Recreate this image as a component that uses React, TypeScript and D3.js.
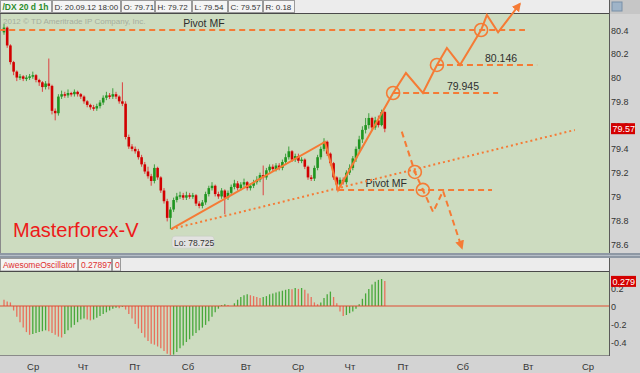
import * as d3 from 'd3'

// 1h bars of /DX, open of each bar = close of the previous one
const firstOpen = 80.38
const closes = [
  80.42, 80.27, 80.13, 80.05, 80.0, 80.01, 79.99, 80.0, 80.01, 80.02,
  79.98, 79.96, 79.92, 79.95, 79.93, 79.72, 79.7, 79.84, 79.86, 79.85,
  79.87, 79.86, 79.88, 79.86, 79.84, 79.8, 79.77, 79.75, 79.74, 79.76,
  79.79, 79.83, 79.85, 79.84, 79.86, 79.84, 79.8, 79.78, 79.5, 79.42,
  79.4, 79.38, 79.33, 79.27, 79.21, 79.17, 79.13, 79.24, 79.16, 79.05,
  78.96, 78.82, 78.89, 78.97, 79.0, 79.01, 78.99, 79.01, 79.0, 79.01,
  78.94, 78.92, 78.95, 79.02, 79.07, 79.09, 79.02, 79.0, 79.05, 78.99,
  79.03, 79.08, 79.11, 79.07, 79.1, 79.12, 79.07, 79.09, 79.12, 79.14,
  79.18, 79.16, 79.22, 79.25, 79.23, 79.26, 79.24, 79.29, 79.33, 79.38,
  79.31, 79.34, 79.3, 79.31, 79.25, 79.16, 79.15, 79.24, 79.33, 79.4,
  79.46, 79.36, 79.28, 79.16, 79.1, 79.14, 79.12, 79.2, 79.24, 79.32,
  79.4, 79.48, 79.56, 79.6, 79.66, 79.58, 79.64, 79.6, 79.71, 79.57,
]
const highs = [
  80.45, 80.43, 80.28, 80.14, 80.06, 80.03, 80.02, 80.02, 80.03, 80.05,
  80.03, 79.99, 79.97, 79.97, 80.16, 79.94, 79.74, 79.86, 79.89, 79.88,
  79.9, 79.88, 79.9, 79.89, 79.87, 79.85, 79.81, 79.78, 79.77, 79.78,
  79.81, 79.85, 79.88, 79.87, 79.91, 79.88, 79.85, 79.96, 79.8, 79.52,
  79.44, 79.42, 79.4, 79.35, 79.29, 79.25, 79.19, 79.27, 79.25, 79.17,
  79.07, 78.98, 78.91, 78.99, 79.03, 79.04, 79.03, 79.04, 79.03, 79.03,
  79.02, 78.96, 78.97, 79.04, 79.09, 79.12, 79.1, 79.04, 79.07, 79.06,
  79.05, 79.1, 79.14, 79.13, 79.12, 79.15, 79.13, 79.11, 79.14, 79.17,
  79.2, 79.26, 79.24, 79.27, 79.27, 79.28, 79.28, 79.31, 79.36, 79.42,
  79.39, 79.36, 79.36, 79.33, 79.32, 79.26, 79.18, 79.26, 79.35, 79.42,
  79.49, 79.47, 79.37, 79.29, 79.17, 79.16, 79.16, 79.22, 79.27, 79.34,
  79.42, 79.51, 79.59, 79.66, 79.7, 79.67, 79.67, 79.68, 79.73, 79.72,
]
const lows = [
  80.36, 80.25, 80.11, 80.02, 79.97, 79.98, 79.97, 79.97, 79.98, 79.99,
  79.96, 79.93, 79.88, 79.9, 79.9, 79.69, 79.64, 79.68, 79.82, 79.83,
  79.83, 79.84, 79.84, 79.84, 79.82, 79.78, 79.75, 79.73, 79.72, 79.72,
  79.74, 79.77, 79.81, 79.82, 79.82, 79.82, 79.78, 79.76, 79.48, 79.4,
  79.38, 79.36, 79.31, 79.25, 79.19, 79.15, 79.09, 79.11, 79.14, 79.03,
  78.94, 78.79, 78.725, 78.87, 78.95, 78.98, 78.97, 78.97, 78.98, 78.98,
  78.92, 78.9, 78.9, 78.93, 79.0, 79.05, 79.0, 78.98, 78.98, 78.85,
  78.97, 79.01, 79.06, 79.05, 79.05, 79.08, 79.05, 79.05, 79.07, 79.1,
  79.12, 79.01, 79.14, 79.2, 79.21, 79.21, 79.22, 79.22, 79.27, 79.31,
  79.29, 79.29, 79.28, 79.28, 79.23, 79.14, 79.13, 79.13, 79.22, 79.31,
  79.38, 79.34, 79.26, 79.14, 79.05, 79.08, 79.1, 79.1, 79.18, 79.22,
  79.29, 79.37, 79.45, 79.53, 79.57, 79.55, 79.56, 79.58, 79.59, 79.54,
]
const aoValues = [
  0.07, 0.05, 0.04, -0.05, -0.12, -0.18, -0.24, -0.29, -0.32, -0.31,
  -0.3, -0.29, -0.28, -0.27, -0.28, -0.3, -0.32, -0.34, -0.35, -0.31,
  -0.27, -0.24, -0.21, -0.18, -0.15, -0.14, -0.15, -0.16, -0.15, -0.13,
  -0.11, -0.09, -0.07, -0.05, -0.03, -0.02, -0.025, -0.01, -0.04, -0.09,
  -0.14, -0.2, -0.25, -0.3, -0.35, -0.39, -0.42, -0.43, -0.45, -0.47,
  -0.5, -0.53, -0.55, -0.54, -0.51, -0.47, -0.44, -0.4, -0.37, -0.33,
  -0.3, -0.27, -0.24, -0.21, -0.17, -0.12, -0.07, -0.03, 0.01, 0.02,
  0.01, 0.0, 0.03, 0.07, 0.1, 0.12, 0.13, 0.12, 0.11, 0.1,
  0.09, 0.1, 0.11, 0.13, 0.14, 0.15, 0.16, 0.17, 0.18, 0.19,
  0.185, 0.2, 0.19, 0.2, 0.18, 0.14, 0.1, 0.04, 0.02, 0.04,
  0.09, 0.13, 0.16, 0.1, 0.03, -0.06, -0.11, -0.1, -0.08, -0.06,
  -0.03, 0.02, 0.08, 0.14, 0.19, 0.24, 0.27, 0.29, 0.3, 0.279,
]

const priceTicks = [80.4, 80.2, 80, 79.8, 79.6, 79.4, 79.2, 79, 78.8, 78.6]
const aoTicks = [0.2, 0, -0.2, -0.4]
const dayLabels = ['Ср', 'Чт', 'Пт', 'Сб', 'Вт', 'Ср', 'Чт', 'Пт', 'Сб', 'Вт', 'Ср']
const dayIndex = [9.1, 24.7, 40.9, 57.5, 75.6, 91.9, 108.1, 124.7, 143.4, 163.8, 182.5]
const headerCells = ['/DX 20 d 1h', 'D: 20.09.12 18:00', 'O: 79.71', 'H: 79.72', 'L: 79.54', 'C: 79.57', 'R: 0.18']
const aoHeaderCells = ['AwesomeOscillator', '0.27897', '0']
const lastPrice = 79.57
const lastAo = 0.279

// hand-drawn analysis, in bar index / price units
const bullPath = [
  [52.2, 78.725], [100.3, 79.458], [104.4, 79.054], [121.6, 79.87], [125.6, 80.038],
  [130.9, 79.87], [135.3, 80.106], [138.4, 80.249], [142.5, 80.106], [149.1, 80.4],
  [150.9, 80.526], [154.4, 80.38], [161.2, 80.62],
]
const bearPath = [[124.3, 79.545], [128.4, 79.206], [130.9, 79.055], [134.1, 78.869], [137.2, 79.046], [143.1, 78.567]]
const supportLine = [[52.2, 78.725], [178.4, 79.559]]
const levelNames = ['Pivot MF', '80.146', '79.945', 'Pivot MF']
const levelPrices = [80.4, 80.106, 79.87, 79.055]
const levelFrom = [-1.5, 135.3, 121.6, 104.4]
const levelTo = [162.8, 166.6, 154.4, 152.5]
const levelLabelAt = [56, 150.3, 138.4, 113]
const circles = [[121.6, 79.87], [135.3, 80.106], [149.1, 80.4], [128.4, 79.206], [130.9, 79.055]]
const lowPoint = [52.2, 78.725]
const lowLabel = 'Lo: 78.725'

const FONT = 'Liberation Sans, Arial, sans-serif'
const ORANGE = '#f57b35'
const PLOT_BG = '#cddcc0'

export default function App() {
  const W = 640
  const H = 373
  const plotR = 609
  const mainTop = 14
  const mainBottom = 253
  const aoTop = 272
  const aoBottom = 356

  const x = d3.scaleLinear().domain([0, 119]).range([4, 384.8])
  const y = d3.scaleLinear().domain([78.6, 80.4]).range([244, 30])
  const ya = d3.scaleLinear().domain([-0.4, 0.2]).range([342, 288])

  const line = d3.line<number[]>().x(d => x(d[0])).y(d => y(d[1]))
  const headerEdges = [0, 52, 121, 155, 192, 228, 263, 295]
  const aoEdges = [0, 78, 112, 121]

  const candles = closes.map((c, i) => {
    const o = i === 0 ? firstOpen : closes[i - 1]
    return { i, o, c, h: highs[i], l: lows[i], up: c > o }
  })

  return (
    <svg width={W} height={H} style={{ position: 'absolute', left: 0, top: 0 }} fontFamily={FONT}>
      <defs>
        <marker id="arr" viewBox="0 0 10 10" refX="8" refY="5" markerWidth="9" markerHeight="9"
          markerUnits="userSpaceOnUse" orient="auto">
          <path d="M0,0 L10,5 L0,10 z" fill={ORANGE} />
        </marker>
      </defs>
      <rect width={W} height={H} fill="#d3d3d3" />

      {/* top header */}
      <rect x={0} y={0} width={plotR} height={mainTop} fill="#ececec" />
      {headerCells.map((t, k) => (
        <g key={k}>
          <rect x={headerEdges[k] + 0.5} y={0.5} width={headerEdges[k + 1] - headerEdges[k] - 1} height={12}
            fill="#f4f4f4" stroke="#9a9a9a" />
          <text x={headerEdges[k] + 2.5} y={10} fontSize={k === 0 ? 8.5 : 8}
            fontWeight={k === 0 ? 'bold' : 'normal'} fill={k === 0 ? '#2a8c2a' : '#333'}>{t}</text>
        </g>
      ))}
      <rect x={plotR} y={0} width={W - plotR} height={mainTop} fill="#c6c6c6" />
      <rect x={612} y={2} width={10} height={9} fill="#9fb4c8" stroke="#7890a8" />

      {/* main price panel */}
      <rect x={0} y={mainTop} width={plotR} height={mainBottom - mainTop} fill={PLOT_BG} />
      <line x1={0} x2={plotR} y1={mainTop - 0.5} y2={mainTop - 0.5} stroke="#4a4a4a" />
      <line x1={0.5} x2={0.5} y1={mainTop} y2={aoBottom} stroke="#8a8a8a" />
      <text x={3} y={24} fontSize={8} fill="#a6ae9e">2012 © TD Ameritrade IP Company, Inc.</text>

      {candles.map(d => {
        const body = d.up ? '#1f951f' : '#d20000'
        const wick = d.up ? '#3e9e3e' : '#dc4040'
        const top = y(Math.max(d.o, d.c))
        const bot = y(Math.min(d.o, d.c))
        return (
          <g key={d.i}>
            <line x1={x(d.i)} x2={x(d.i)} y1={y(d.h)} y2={y(d.l)} stroke={wick} strokeWidth={1} />
            <rect x={x(d.i) - 1.3} y={top} width={2.6} height={Math.max(1.5, bot - top)} fill={body} />
          </g>
        )
      })}

      {/* price axis */}
      <rect x={plotR} y={mainTop} width={W - plotR} height={mainBottom - mainTop} fill="#d4d4d4" />
      <line x1={plotR + 0.5} x2={plotR + 0.5} y1={0} y2={aoBottom} stroke="#5a5a5a" />
      {priceTicks.map(t => (
        <text key={t} x={611} y={y(t) + 3.5} fontSize={9} fill="#333">{String(t)}</text>
      ))}
      <rect x={611} y={y(lastPrice) - 5.5} width={24} height={11} fill="#d40000" />
      <text x={612.5} y={y(lastPrice) + 3.5} fontSize={9} fill="#fff">{lastPrice.toFixed(2)}</text>

      {/* analysis drawings */}
      {levelPrices.map((p, k) => (
        <g key={k}>
          <line x1={x(levelFrom[k])} x2={x(levelTo[k])} y1={y(p)} y2={y(p)} stroke={ORANGE}
            strokeWidth={2} strokeDasharray="6,4" />
          <text x={x(levelLabelAt[k])} y={y(p) - 3} fontSize={10.5} fill="#2e2e2e">{levelNames[k]}</text>
        </g>
      ))}
      <path d={line(supportLine) ?? ''} fill="none" stroke={ORANGE} strokeWidth={2} strokeDasharray="2,3" />
      <path d={line(bullPath) ?? ''} fill="none" stroke={ORANGE} strokeWidth={2} markerEnd="url(#arr)" />
      <path d={line(bearPath) ?? ''} fill="none" stroke={ORANGE} strokeWidth={2} strokeDasharray="6,4"
        markerEnd="url(#arr)" />
      {circles.map((c, k) => (
        <g key={k}>
          <circle cx={x(c[0])} cy={y(c[1])} r={6.5} fill="none" stroke={ORANGE} strokeWidth={1.6} />
          {k > 2 && (
            <path d={`M${x(c[0]) - 2},${y(c[1])}h4M${x(c[0])},${y(c[1]) - 2}v4`} stroke={ORANGE} strokeWidth={1} />
          )}
        </g>
      ))}
      <rect x={x(lowPoint[0]) + 1} y={y(lowPoint[1]) + 7} width={42} height={12} rx={3} fill="#e2e2e0"
        stroke="#c4c8c0" strokeWidth={0.5} />
      <text x={x(lowPoint[0]) + 3} y={y(lowPoint[1]) + 16.5} fontSize={8.5} fill="#333">{lowLabel}</text>
      <text x={13} y={237} fontSize={20} fill="#ee1a1a">Masterforex-V</text>

      {/* separator and oscillator header */}
      <rect x={0} y={mainBottom} width={W} height={5} fill="#8e98a4" />
      <line x1={0} x2={W} y1={mainBottom + 2.5} y2={mainBottom + 2.5} stroke="#b6bec8" />
      <rect x={0} y={258} width={plotR} height={aoTop - 258} fill="#ececec" />
      {aoHeaderCells.map((t, k) => (
        <g key={k}>
          <rect x={aoEdges[k] + 0.5} y={258.5} width={aoEdges[k + 1] - aoEdges[k] - 1} height={12.5}
            fill="#f4f4f4" stroke="#9a9a9a" />
          <text x={aoEdges[k] + 3} y={268} fontSize={8.5} fill="#e03030">{t}</text>
        </g>
      ))}
      <line x1={0} x2={plotR} y1={aoTop - 0.5} y2={aoTop - 0.5} stroke="#4a4a4a" />

      {/* oscillator panel */}
      <rect x={0} y={aoTop} width={plotR} height={aoBottom - aoTop} fill={PLOT_BG} />
      {aoValues.map((v, i) => {
        const up = i === 0 ? false : v >= aoValues[i - 1]
        return (
          <line key={i} x1={x(i)} x2={x(i)} y1={ya(0)} y2={ya(v)} stroke={up ? '#47a83a' : '#e8705c'}
            strokeWidth={1.3} />
        )
      })}
      <line x1={0} x2={plotR} y1={ya(0)} y2={ya(0)} stroke="#e04a32" strokeWidth={1} />
      <line x1={0} x2={plotR} y1={aoBottom - 0.5} y2={aoBottom - 0.5} stroke="#8a8a8a" />
      {aoTicks.map(t => (
        <text key={t} x={611} y={ya(t) + 3.5} fontSize={9} fill="#333">{String(t)}</text>
      ))}
      <rect x={611} y={ya(lastAo) - 5} width={25} height={11} fill="#d40000" />
      <text x={612.5} y={ya(lastAo) + 3.8} fontSize={9} fill="#fff">{String(lastAo)}</text>

      {/* time axis */}
      {dayLabels.map((t, k) => (
        <text key={k} x={x(dayIndex[k])} y={370} fontSize={9.5} textAnchor="middle" fill="#333">{t}</text>
      ))}
    </svg>
  )
}
